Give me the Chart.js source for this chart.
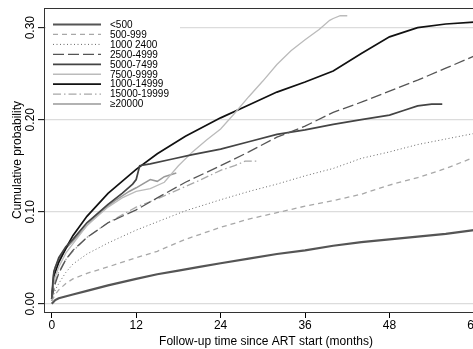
<!DOCTYPE html>
<html><head><meta charset="utf-8">
<script src="https://cdn.jsdelivr.net/npm/chart.js@4/dist/chart.umd.min.js"></script>
<style>
html,body{margin:0;padding:0;background:#fff;overflow:hidden;width:473px;height:349px;}
#wrap{position:absolute;left:0;top:0;width:490px;height:349px;}
</style></head>
<body><div id="wrap"><canvas id="c" width="490" height="349"></canvas></div>
<script>
// ---- data (months since ART start, cumulative probability) ----
const seriesLabels = ['<500','500-999','1000 2400','2500-4999','5000-7499','7500-9999','1000-14999','15000-19999','\u226520000'];
const xTicks = [0,12,24,36,48,60];
const yTicks = [0,0.1,0.2,0.3];

const t_lt500 = [0,0.5,1,3,5,8,12,15,18,21,24,28,32,36,40,44,48,52,56,60,62];
const p_lt500 = [0,0.004,0.006,0.010,0.014,0.020,0.027,0.032,0.036,0.040,0.044,0.049,0.054,0.058,0.063,0.067,0.070,0.073,0.076,0.080,0.082];

const t_500 = [0,0.5,1,2,3,5,8,12,15,19,24,28,32,36,40,44,48,52,56,60,62];
const p_500 = [0.003,0.010,0.015,0.022,0.027,0.033,0.040,0.050,0.057,0.070,0.083,0.092,0.099,0.106,0.112,0.119,0.129,0.137,0.147,0.159,0.163];

const t_1000 = [0,0.5,1,2,3,5,8,12,15,19,24,28,32,36,40,44,48,52,56,60,62];
const p_1000 = [0.003,0.015,0.022,0.034,0.043,0.054,0.066,0.080,0.089,0.101,0.113,0.122,0.130,0.139,0.147,0.158,0.165,0.173,0.179,0.185,0.188];

const t_2500 = [0,0.5,1,2,3,5,8,12,15,19,24,28,32,36,40,44,48,52,56,60,62];
const p_2500 = [0.005,0.022,0.033,0.048,0.058,0.072,0.088,0.102,0.115,0.132,0.150,0.165,0.181,0.193,0.208,0.219,0.231,0.243,0.256,0.269,0.274];

const t_5000 = [0,0.3,1,2,3,5,8,10,11.5,12,12.5,14,17,20,24,28,32,36,40,44,48,50,52,54,55.5];
const p_5000 = [0.005,0.035,0.050,0.062,0.070,0.088,0.108,0.120,0.130,0.135,0.150,0.152,0.157,0.162,0.168,0.176,0.184,0.189,0.195,0.200,0.205,0.210,0.215,0.217,0.217];

const t_7500 = [0,0.3,1,2,3,5,8,10,12,14,16,18,20,22,24,26,28,30,32,34,36,38,39.5,40,41,42];
const p_7500 = [0.005,0.025,0.040,0.055,0.065,0.085,0.105,0.115,0.122,0.125,0.132,0.150,0.165,0.178,0.190,0.207,0.225,0.242,0.260,0.275,0.287,0.298,0.308,0.310,0.313,0.313];

const t_10000 = [0,0.3,1,2,3,5,8,12,15,19,24,28,32,36,40,44,48,52,56,60,62];
const p_10000 = [0.005,0.030,0.045,0.060,0.074,0.095,0.120,0.146,0.163,0.182,0.202,0.216,0.230,0.241,0.253,0.272,0.290,0.300,0.304,0.306,0.307];

const t_15000 = [0,0.3,1,2,3,5,8,12,15,18,21,24,26,27.5,29.5];
const p_15000 = [0.005,0.020,0.035,0.048,0.057,0.072,0.088,0.105,0.114,0.124,0.134,0.145,0.150,0.155,0.155];

const t_20000 = [0,0.2,0.5,1,2,3,5,7,9,11,12,14,15,16,17.7];
const p_20000 = [0.010,0.030,0.040,0.048,0.060,0.068,0.085,0.100,0.112,0.122,0.126,0.135,0.133,0.138,0.142];

// ---- styles ----
const styles = [
  {c:'#555555', w:2.2, d:[]},
  {c:'#a8a8a8', w:1.3, d:[5,4]},
  {c:'#666666', w:1.0, d:[1,2.5]},
  {c:'#555555', w:1.3, d:[11,4]},
  {c:'#444444', w:1.7, d:[]},
  {c:'#bbbbbb', w:1.3, d:[]},
  {c:'#111111', w:1.7, d:[]},
  {c:'#a8a8a8', w:1.3, d:[8,3,1.5,3]},
  {c:'#999999', w:1.5, d:[]}
];
const ts = [t_lt500,t_500,t_1000,t_2500,t_5000,t_7500,t_10000,t_15000,t_20000];
const ps = [p_lt500,p_500,p_1000,p_2500,p_5000,p_7500,p_10000,p_15000,p_20000];

const datasets = seriesLabels.map((lab,i)=>({
  label: lab,
  data: ts[i].map((x,k)=>({x:x,y:ps[i][k]})),
  borderColor: styles[i].c,
  borderWidth: styles[i].w,
  borderDash: styles[i].d,
  pointRadius: 0,
  fill: false,
  tension: 0
}));

const FONT = 'Liberation Sans, Arial, Helvetica, sans-serif';

const decor = {
  id:'decor',
  afterDraw(chart){
    const ctx = chart.ctx, a = chart.chartArea, ys = chart.scales.y;
    ctx.save();
    // frame
    ctx.strokeStyle = '#333'; ctx.lineWidth = 1;
    ctx.strokeRect(a.left+0.5, a.top+0.5, a.right-a.left, a.bottom-a.top);
    // y tick labels (rotated)
    ctx.fillStyle = '#000';
    ctx.font = '12px ' + FONT;
    ctx.textAlign = 'center'; ctx.textBaseline = 'middle';
    yTicks.forEach(v=>{
      const py = ys.getPixelForValue(v);
      ctx.save(); ctx.translate(31, py); ctx.rotate(-Math.PI/2);
      ctx.fillText(v.toFixed(2), 0, 0); ctx.restore();
    });
    // legend
    ctx.fillStyle = '#fff';
    ctx.fillRect(a.left+2, a.top+6, 134, 100);
    ctx.font = '10px ' + FONT;
    ctx.textAlign = 'left'; ctx.textBaseline = 'middle';
    chart.data.datasets.forEach((ds,i)=>{
      const y = a.top + 16.5 + i*9.95;
      ctx.strokeStyle = ds.borderColor; ctx.lineWidth = ds.borderWidth;
      ctx.setLineDash(ds.borderDash||[]);
      ctx.beginPath(); ctx.moveTo(a.left+9, y); ctx.lineTo(a.left+57, y); ctx.stroke();
      ctx.setLineDash([]);
      ctx.fillStyle = '#000';
      ctx.fillText(ds.label, a.left+66, y+0.5);
    });
    ctx.restore();
  }
};

new Chart(document.getElementById('c'), {
  type:'line',
  data:{datasets},
  options:{
    responsive:false, animation:false,
    layout:{padding:{left:10,right:2,top:8,bottom:0}},
    plugins:{legend:{display:false}, tooltip:{enabled:false}},
    scales:{
      x:{
        type:'linear', min:-1.1, max:62,
        afterBuildTicks: s=>{ s.ticks = xTicks.map(v=>({value:v})); },
        afterFit: s=>{ s.height = 37; },
        border:{display:true,color:'#000',width:1},
        grid:{drawOnChartArea:false, drawTicks:true, tickLength:6, tickColor:'#000', tickWidth:1},
        ticks:{font:{family:FONT,size:12}, color:'#000', padding:0, maxRotation:0, autoSkip:false, callback:v=>String(v)},
        title:{display:true, text:'Follow-up time since ART start (months)', font:{family:FONT,size:12}, color:'#000', padding:{top:-2,bottom:0}}
      },
      y:{
        type:'linear', min:-0.009, max:0.3214,
        afterBuildTicks: s=>{ s.ticks = yTicks.map(v=>({value:v})); },
        afterFit: s=>{ s.width = 34; },
        border:{display:true,color:'#000',width:1},
        grid:{color:'#dcdcdc', lineWidth:1.3, drawTicks:true, tickLength:6, tickColor:'#000', tickWidth:1},
        ticks:{display:false},
        title:{display:true, text:'Cumulative probability', font:{family:FONT,size:12}, color:'#000', padding:{top:0,bottom:0}}
      }
    }
  },
  plugins:[decor]
});
</script></body></html>
